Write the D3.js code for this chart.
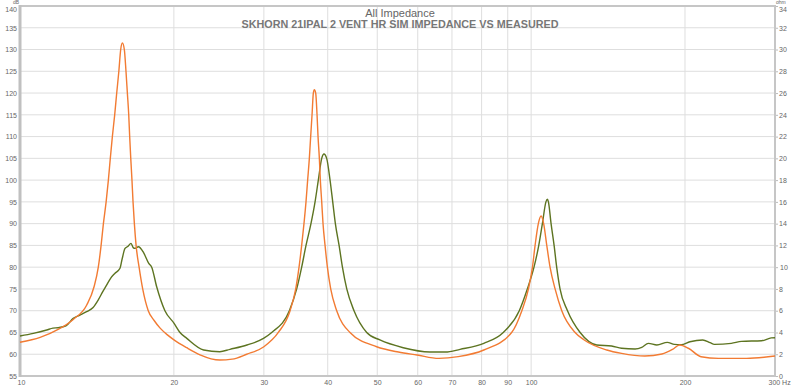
<!DOCTYPE html>
<html>
<head>
<meta charset="utf-8">
<title>All Impedance</title>
<style>
  body { margin: 0; background: #fff; }
  svg { display: block; font-family: "Liberation Sans", Arial, sans-serif; }
  .grid line { stroke: #dedede; stroke-width: 1; }
  .axis text { fill: #666; font-size: 7px; }
  .axis line { stroke: #bbb; }
  .axis path { display: none; }
  .curve { fill: none; stroke-width: 1.4; stroke-linejoin: round; }
</style>
</head>
<body>
<svg id="chart" width="800" height="386"></svg>
<script src="https://d3js.org/d3.v7.min.js"></script>
<script>
// simulated impedance (orange), ohm vs Hz
const simHz = [10, 10.95, 11.9, 12.71, 13.5, 13.96, 14.23, 14.41, 14.56, 14.74, 14.89, 15.02, 15.16, 15.32, 15.46, 15.61, 15.74, 15.86,
  16.0, 16.12, 16.22, 16.32, 16.39, 16.47, 16.56, 16.64, 16.74, 16.87, 17.1, 17.38, 17.82, 18.3, 18.8, 19.4, 20.04, 21.19, 22.5, 24.6, 26.0,
  27.77, 30.0, 32.02, 33.76, 34.63, 35.15, 35.57, 35.94, 36.27, 36.54, 36.82, 37.04, 37.27, 37.49, 37.66, 37.89, 38.12, 38.29,
  38.52, 38.69, 38.93, 39.16, 39.52, 39.94, 40.54, 41.65, 44.22, 49.87, 55, 59.8, 66, 72, 80.8, 91.6, 95.9, 98.8, 100.6,
  101.8, 103.3, 104.6, 105.8, 107.3, 108.9, 111.4, 114.8, 121.9, 127, 140.6, 150.3, 166.9, 180.3, 189.1, 195.2, 203.1, 215,
  232.6, 264, 300];
const simOhm = [3.1, 3.55, 4.3, 5.2, 6.5, 8.2, 10, 12, 14, 16, 18, 20, 22, 24, 26, 28, 30, 30.6,
  30, 28, 26, 24, 22, 20, 18, 16, 14, 12, 10, 8, 6, 5.1, 4.4, 3.8, 3.3, 2.6, 1.95, 1.47, 1.55,
  2.0, 2.69, 4, 6, 8, 10, 12, 14, 16, 18, 20, 22, 24, 26, 26.3, 26, 24, 22,
  20, 18, 16, 14, 12, 10, 8, 6, 4, 2.69, 2.2, 1.93, 1.62, 1.78, 2.39, 4, 6, 8, 10,
  12, 14, 14.7, 14, 12, 10, 8, 6, 4, 3.31, 2.39, 2.08, 1.84, 2.02, 2.45, 2.85, 2.55, 1.77,
  1.62, 1.62, 1.84];

// measured impedance (olive)
const measHz = [10, 10.62, 11.28, 11.6, 11.88, 12.3, 12.71, 13.1, 13.5, 13.9, 14.22, 14.5, 14.77, 15.05, 15.34, 15.69, 15.85,
  16.05, 16.25, 16.49, 16.65, 16.79, 17.05, 17.45, 17.86, 18.1, 18.51, 19.21, 20.02, 20.56, 21.2, 22.87, 24.6, 25.75, 27.8,
  29.95, 31.08, 33.65, 34.78, 35.57, 36.27, 37.09, 37.78, 38.34, 38.93, 39.33, 39.81, 40.42, 40.91, 41.4, 42.1, 42.74, 43.58,
  45.03, 47.68, 50.6, 56.2, 63.4, 68, 72.6, 80.8, 88.2, 94.8, 98.3, 101.3, 103.5, 105.2, 106.9, 107.6, 108.1, 109.4, 110.9,
  112.2, 113.9, 117.8, 124.7, 134.4, 143.7, 150.3, 159.7, 164.6, 169.6, 176.2, 184.7, 190.6, 196.6, 204.5, 216.6, 224, 228.3,
  246.4, 258, 282.5, 295, 300];
const measOhm = [3.68, 3.92, 4.23, 4.4, 4.44, 4.6, 5.3, 5.6, 5.91, 6.3, 6.98, 7.7, 8.36, 9.0, 9.44, 9.9, 10.8,
  11.73, 11.9, 12.19, 11.8, 11.73, 11.88, 11.33, 10.35, 10, 8.2, 6.0, 4.84, 4.0, 3.46, 2.39, 2.23, 2.45, 2.85,
  3.46, 4, 6, 8, 10, 12, 14, 16, 18, 20, 20.4, 20, 18, 16, 14, 12, 10, 8,
  6, 4, 3.31, 2.6, 2.21, 2.2, 2.45, 3.0, 4, 6, 8, 10, 12, 14, 16, 16.24, 16, 14, 12,
  10, 8, 6, 4, 2.85, 2.76, 2.55, 2.48, 2.63, 3.0, 2.85, 3.09, 2.91, 2.88, 3.15, 3.31, 3.06, 2.91,
  3.0, 3.18, 3.24, 3.5, 3.52];

const dbTicks = d3.range(55, 141, 5);
const ohmTicks = d3.range(0, 35, 2);
const hzTicks = [10, 20, 30, 40, 50, 60, 70, 80, 90, 100, 200, 300];
const hzGrid = [20, 30, 40, 50, 60, 70, 80, 90, 100, 200];

const pL = 20, pR = 775, pT = 6, pB = 376;
const svg = d3.select("#chart");

const x = d3.scaleLog().domain([10, 300]).range([pL, pR]);
const yDb = d3.scaleLinear().domain([55, 140]).range([pB, pT]);
const yOhm = d3.scaleLinear().domain([0, 34]).range([pB, pT]);

// grid
const grid = svg.append("g").attr("class", "grid");
grid.selectAll(".h").data(dbTicks).join("line")
  .attr("x1", pL).attr("x2", pR)
  .attr("y1", d => yDb(d)).attr("y2", d => yDb(d));
grid.selectAll(".v").data(hzGrid).join("line")
  .attr("y1", pT).attr("y2", pB)
  .attr("x1", d => x(d)).attr("x2", d => x(d));

// axes
svg.append("g").attr("class", "axis")
  .attr("transform", `translate(${pL - 1},0)`)
  .call(d3.axisLeft(yDb).tickValues(dbTicks).tickSize(0).tickPadding(2));
svg.append("g").attr("class", "axis")
  .attr("transform", `translate(${pR + 1},0)`)
  .call(d3.axisRight(yOhm).tickValues(ohmTicks).tickSize(2).tickPadding(1));
svg.append("g").attr("class", "axis")
  .attr("transform", `translate(0,${pB + 1})`)
  .call(d3.axisBottom(x).tickValues(hzTicks).tickSize(0).tickPadding(3)
    .tickFormat(d => d === 300 ? "300 Hz" : d));
svg.selectAll(".axis text").filter(d => d === 300).attr("text-anchor", "start").attr("dx", -7);
svg.selectAll(".axis text").filter(d => d === 10).attr("dx", 1);
// top labels sit a little lower than their grid line
svg.selectAll(".axis text").filter(d => d === 140 || d === 34).attr("y", 3.5);

// frame
svg.append("rect")
  .attr("x", pL).attr("y", pT)
  .attr("width", pR - pL).attr("height", pB - pT)
  .attr("fill", "none").attr("stroke", "#c6c6c6").attr("stroke-width", 2);
svg.append("line")
  .attr("x1", pL).attr("x2", pL).attr("y1", pT - 1).attr("y2", pB + 1)
  .attr("stroke", "#c0c0c0").attr("stroke-width", 3);

// unit labels
svg.append("text").attr("x", 13).attr("y", 4.4).attr("font-size", 5).attr("fill", "#666").text("dB");
svg.append("text").attr("x", 776).attr("y", 4.4).attr("font-size", 5).attr("fill", "#666").text("ohm");

// curves
const line = d3.line()
  .x(d => x(d[0]))
  .y(d => yOhm(d[1]))
  .curve(d3.curveMonotoneX);

svg.append("path").attr("class", "curve")
  .attr("stroke", "#5d7421")
  .attr("d", line(d3.zip(measHz, measOhm)));
svg.append("path").attr("class", "curve")
  .attr("stroke", "#f27b33")
  .attr("d", line(d3.zip(simHz, simOhm)));

// title
svg.append("text").attr("x", 400).attr("y", 17).attr("text-anchor", "middle")
  .attr("font-size", 11).attr("fill", "#666").text("All Impedance");
svg.append("text").attr("x", 400).attr("y", 28).attr("text-anchor", "middle")
  .attr("font-size", 10.8).attr("font-weight", "bold").attr("fill", "#777")
  .text("SKHORN 21IPAL 2 VENT HR SIM IMPEDANCE VS MEASURED");
</script>
</body>
</html>
